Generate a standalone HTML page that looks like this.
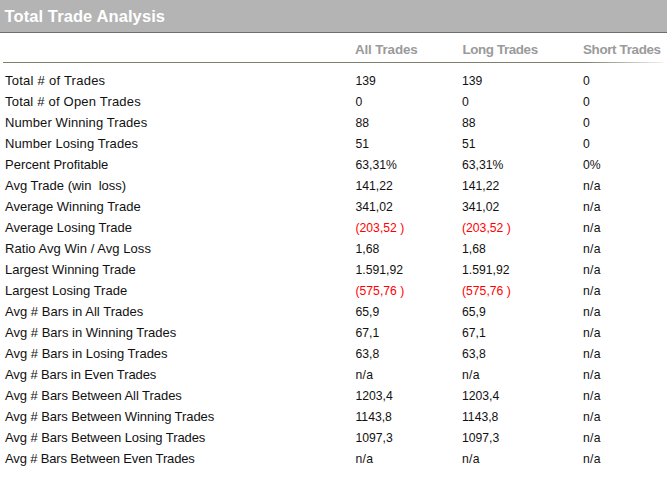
<!DOCTYPE html>
<html><head><meta charset="utf-8"><style>
html,body{margin:0;padding:0;background:#fff;width:667px;height:478px;overflow:hidden;position:relative;font-family:"Liberation Sans",sans-serif;}
.bar{position:absolute;left:0;top:0;width:667px;height:32px;background:#b4b4b4;border-bottom:1px solid #6e6e6e;}
.title{position:absolute;left:4.5px;top:4px;font-size:16.5px;letter-spacing:0.1px;font-weight:bold;color:#fff;line-height:24px;white-space:nowrap;}
.hd{position:absolute;top:40px;font-size:13.4px;font-weight:bold;color:#9a9a9a;line-height:20px;white-space:nowrap;}
.sep{position:absolute;left:3px;top:62px;width:660px;height:1px;background:linear-gradient(to right,#7f7f70 0,#7f7f70 582px,#f0f0f0 100%);}
.row{position:absolute;left:0;width:667px;height:21px;line-height:21px;color:#111;white-space:nowrap;}
.row div{position:absolute;top:0;}
.l{left:5px;font-size:13px;}
.c1{left:355.5px;font-size:12.2px;top:1px!important;}
.c2{left:462px;font-size:12.2px;top:1px!important;}
.c3{left:583px;font-size:12.2px;top:1px!important;}
.red{color:#f00;}
</style></head><body>
<div class="bar"><div class="title">Total Trade Analysis</div></div>
<div class="hd" style="left:355px;letter-spacing:-0.15px">All Trades</div>
<div class="hd" style="left:462.5px;letter-spacing:-0.4px">Long Trades</div>
<div class="hd" style="left:583px;letter-spacing:-0.35px">Short Trades</div>
<div class="sep"></div>
<div class="row" style="top:70px"><div class="l" style="letter-spacing:0.25px">Total # of Trades</div><div class="c1">139</div><div class="c2">139</div><div class="c3">0</div></div><div class="row" style="top:91px"><div class="l" style="letter-spacing:0.2px">Total # of Open Trades</div><div class="c1">0</div><div class="c2">0</div><div class="c3">0</div></div><div class="row" style="top:112px"><div class="l" style="letter-spacing:0.1px">Number Winning Trades</div><div class="c1">88</div><div class="c2">88</div><div class="c3">0</div></div><div class="row" style="top:133px"><div class="l" style="letter-spacing:0.08px">Number Losing Trades</div><div class="c1">51</div><div class="c2">51</div><div class="c3">0</div></div><div class="row" style="top:154px"><div class="l" style="letter-spacing:0px">Percent Profitable</div><div class="c1">63,31%</div><div class="c2">63,31%</div><div class="c3">0%</div></div><div class="row" style="top:175px"><div class="l" style="letter-spacing:0px">Avg Trade (win &nbsp;loss)</div><div class="c1">141,22</div><div class="c2">141,22</div><div class="c3" style="letter-spacing:0.3px">n/a</div></div><div class="row" style="top:196px"><div class="l" style="letter-spacing:0px">Average Winning Trade</div><div class="c1">341,02</div><div class="c2">341,02</div><div class="c3" style="letter-spacing:0.3px">n/a</div></div><div class="row" style="top:217px"><div class="l" style="letter-spacing:0px">Average Losing Trade</div><div class="c1 red">(203,52 )</div><div class="c2 red">(203,52 )</div><div class="c3" style="letter-spacing:0.3px">n/a</div></div><div class="row" style="top:238px"><div class="l" style="letter-spacing:0.05px">Ratio Avg Win / Avg Loss</div><div class="c1">1,68</div><div class="c2">1,68</div><div class="c3" style="letter-spacing:0.3px">n/a</div></div><div class="row" style="top:259px"><div class="l" style="letter-spacing:0px">Largest Winning Trade</div><div class="c1">1.591,92</div><div class="c2">1.591,92</div><div class="c3" style="letter-spacing:0.3px">n/a</div></div><div class="row" style="top:280px"><div class="l" style="letter-spacing:0px">Largest Losing Trade</div><div class="c1 red">(575,76 )</div><div class="c2 red">(575,76 )</div><div class="c3" style="letter-spacing:0.3px">n/a</div></div><div class="row" style="top:301px"><div class="l" style="letter-spacing:0.02px">Avg # Bars in All Trades</div><div class="c1">65,9</div><div class="c2">65,9</div><div class="c3" style="letter-spacing:0.3px">n/a</div></div><div class="row" style="top:322px"><div class="l" style="letter-spacing:0.01px">Avg # Bars in Winning Trades</div><div class="c1">67,1</div><div class="c2">67,1</div><div class="c3" style="letter-spacing:0.3px">n/a</div></div><div class="row" style="top:343px"><div class="l" style="letter-spacing:0.01px">Avg # Bars in Losing Trades</div><div class="c1">63,8</div><div class="c2">63,8</div><div class="c3" style="letter-spacing:0.3px">n/a</div></div><div class="row" style="top:364px"><div class="l" style="letter-spacing:-0.1px">Avg # Bars in Even Trades</div><div class="c1" style="letter-spacing:0.3px">n/a</div><div class="c2" style="letter-spacing:0.3px">n/a</div><div class="c3" style="letter-spacing:0.3px">n/a</div></div><div class="row" style="top:385px"><div class="l" style="letter-spacing:-0.05px">Avg # Bars Between All Trades</div><div class="c1">1203,4</div><div class="c2">1203,4</div><div class="c3" style="letter-spacing:0.3px">n/a</div></div><div class="row" style="top:406px"><div class="l" style="letter-spacing:-0.07px">Avg # Bars Between Winning Trades</div><div class="c1">1143,8</div><div class="c2">1143,8</div><div class="c3" style="letter-spacing:0.3px">n/a</div></div><div class="row" style="top:427px"><div class="l" style="letter-spacing:-0.08px">Avg # Bars Between Losing Trades</div><div class="c1">1097,3</div><div class="c2">1097,3</div><div class="c3" style="letter-spacing:0.3px">n/a</div></div><div class="row" style="top:448px"><div class="l" style="letter-spacing:-0.15px">Avg # Bars Between Even Trades</div><div class="c1" style="letter-spacing:0.3px">n/a</div><div class="c2" style="letter-spacing:0.3px">n/a</div><div class="c3" style="letter-spacing:0.3px">n/a</div></div>
</body></html>
